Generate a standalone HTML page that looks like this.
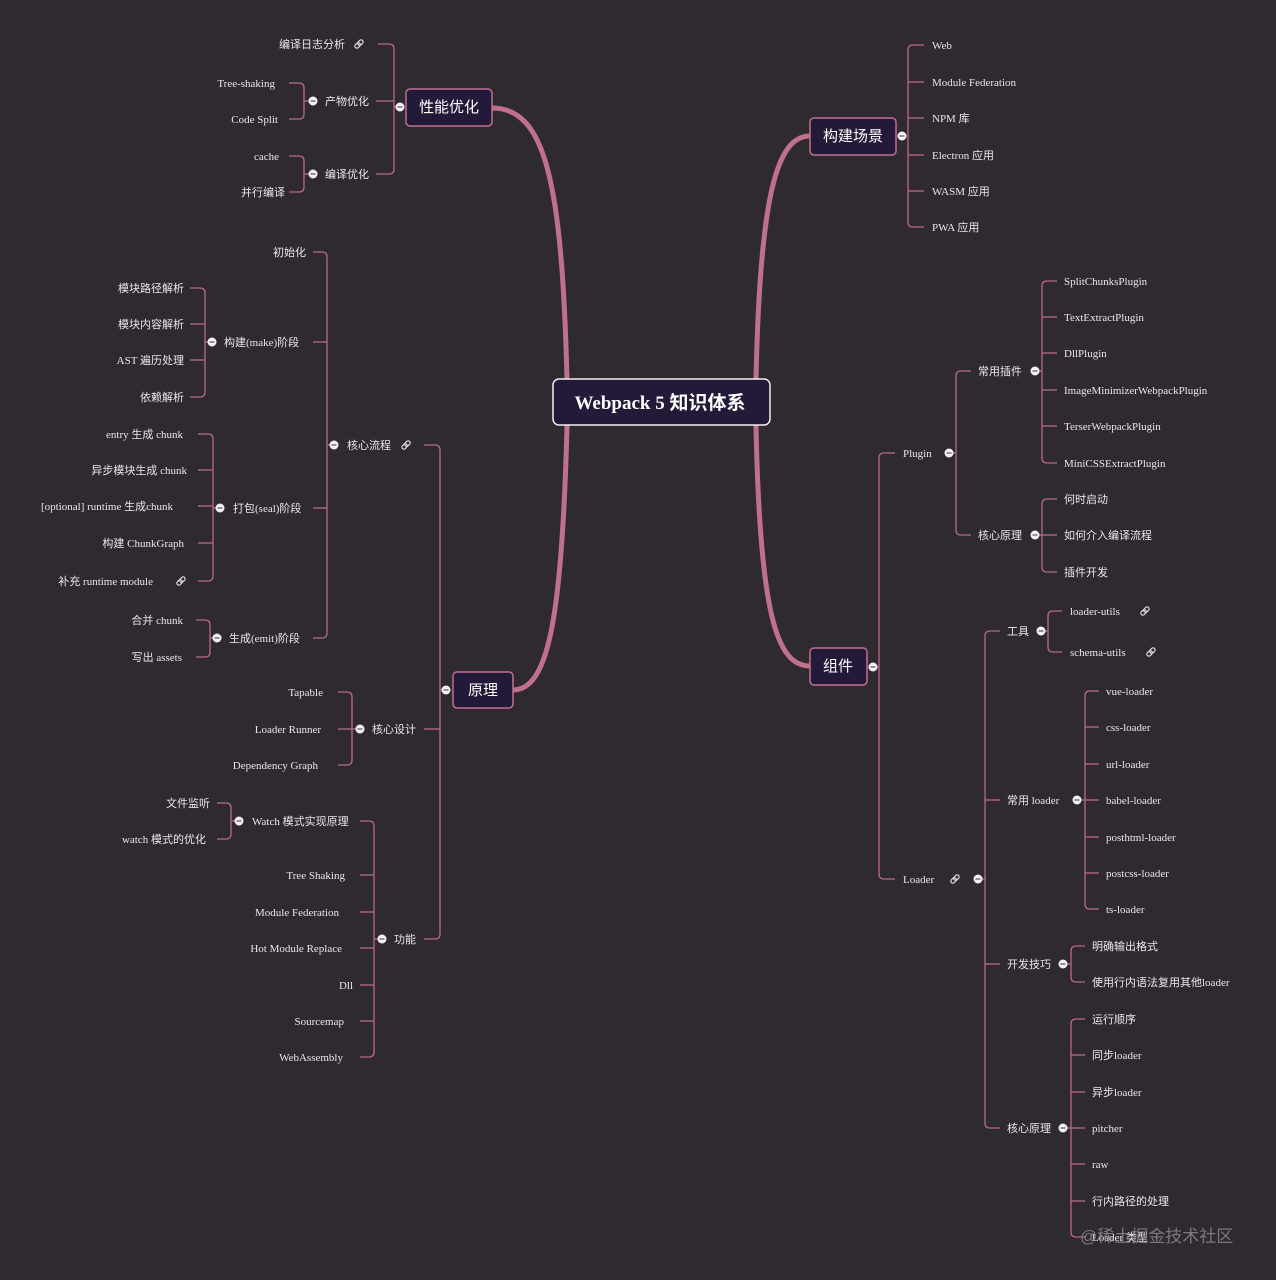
<!DOCTYPE html>
<html><head><meta charset="utf-8"><style>
html,body{margin:0;padding:0;background:#2f2a30;}
svg{display:block}
text{font-family:"Liberation Serif","Noto Sans CJK SC",serif;font-size:11px;fill:#eee4ec;}
.l{text-anchor:end}
.b{font-family:"Liberation Sans","Noto Sans CJK SC",sans-serif;font-size:15px;fill:#fff}
</style></head><body>
<svg id="s" width="1276" height="1280" xmlns="http://www.w3.org/2000/svg">
<rect width="1276" height="1280" fill="#2f2a30"/>
<g id="lines" fill="none" stroke="#b8698c" stroke-width="1.3"></g>
<g fill="none" stroke="#c0708f" stroke-width="5" stroke-linecap="round">
<path d="M567,380 C562,180 545,108 492,108"/>
<path d="M567,426 C562,620 548,690 513,690"/>
<path d="M756,380 C760,190 778,136 810,136"/>
<path d="M756,426 C760,620 778,666 810,666"/>
</g>
<!-- boxes -->
<rect x="553" y="379" width="217" height="46" rx="6" fill="#221a38" stroke="#f2eef4" stroke-width="1.5"/>
<text x="660" y="409" style="font-family:'Liberation Serif','Noto Sans CJK SC',serif;font-size:19px;font-weight:bold;fill:#fff;text-anchor:middle">Webpack 5 知识体系</text>
<rect x="406" y="89" width="86" height="37" rx="4" fill="#221a38" stroke="#c0708f" stroke-width="1.5"/>
<text class="b" x="449" y="112" text-anchor="middle">性能优化</text>
<rect x="453" y="672" width="60" height="36" rx="4" fill="#221a38" stroke="#c0708f" stroke-width="1.5"/>
<text class="b" x="483" y="695" text-anchor="middle">原理</text>
<rect x="810" y="118" width="86" height="37" rx="4" fill="#221a38" stroke="#c0708f" stroke-width="1.5"/>
<text class="b" x="853" y="141" text-anchor="middle">构建场景</text>
<rect x="810" y="648" width="57" height="37" rx="4" fill="#221a38" stroke="#c0708f" stroke-width="1.5"/>
<text class="b" x="838" y="671" text-anchor="middle">组件</text>

<!-- left texts -->
<text class="l" x="345" y="48">编译日志分析</text>
<text x="325" y="105">产物优化</text>
<text x="325" y="178">编译优化</text>
<text class="l" x="275" y="87">Tree-shaking</text>
<text class="l" x="278" y="123">Code Split</text>
<text class="l" x="279" y="160">cache</text>
<text class="l" x="285" y="196">并行编译</text>

<text x="347" y="449">核心流程</text>
<text x="372" y="733">核心设计</text>
<text x="394" y="943">功能</text>
<text class="l" x="306" y="256">初始化</text>
<text x="224" y="346">构建(make)阶段</text>
<text x="233" y="512">打包(seal)阶段</text>
<text x="229" y="642">生成(emit)阶段</text>
<text class="l" x="184" y="292">模块路径解析</text>
<text class="l" x="184" y="328">模块内容解析</text>
<text class="l" x="184" y="364">AST 遍历处理</text>
<text class="l" x="184" y="401">依赖解析</text>
<text class="l" x="183" y="438">entry 生成 chunk</text>
<text class="l" x="187" y="474">异步模块生成 chunk</text>
<text class="l" x="173" y="510">[optional] runtime 生成chunk</text>
<text class="l" x="184" y="547">构建 ChunkGraph</text>
<text class="l" x="153" y="585">补充 runtime module</text>
<text class="l" x="183" y="624">合并 chunk</text>
<text class="l" x="182" y="661">写出 assets</text>
<text class="l" x="323" y="696">Tapable</text>
<text class="l" x="321" y="733">Loader Runner</text>
<text class="l" x="318" y="769">Dependency Graph</text>
<text x="252" y="825">Watch 模式实现原理</text>
<text class="l" x="345" y="879">Tree Shaking</text>
<text class="l" x="339" y="916">Module Federation</text>
<text class="l" x="342" y="952">Hot Module Replace</text>
<text class="l" x="353" y="989">Dll</text>
<text class="l" x="344" y="1025">Sourcemap</text>
<text class="l" x="343" y="1061">WebAssembly</text>
<text class="l" x="210" y="807">文件监听</text>
<text class="l" x="206" y="843">watch 模式的优化</text>

<!-- right texts -->
<text x="932" y="49">Web</text>
<text x="932" y="86">Module Federation</text>
<text x="932" y="122">NPM 库</text>
<text x="932" y="159">Electron 应用</text>
<text x="932" y="195">WASM 应用</text>
<text x="932" y="231">PWA 应用</text>
<text x="903" y="457">Plugin</text>
<text x="903" y="883">Loader</text>
<text x="978" y="375">常用插件</text>
<text x="978" y="539">核心原理</text>
<text x="1064" y="285">SplitChunksPlugin</text>
<text x="1064" y="321">TextExtractPlugin</text>
<text x="1064" y="357">DllPlugin</text>
<text x="1064" y="394">ImageMinimizerWebpackPlugin</text>
<text x="1064" y="430">TerserWebpackPlugin</text>
<text x="1064" y="467">MiniCSSExtractPlugin</text>
<text x="1064" y="503">何时启动</text>
<text x="1064" y="539">如何介入编译流程</text>
<text x="1064" y="576">插件开发</text>
<text x="1007" y="635">工具</text>
<text x="1007" y="804">常用 loader</text>
<text x="1007" y="968">开发技巧</text>
<text x="1007" y="1132">核心原理</text>
<text x="1070" y="615">loader-utils</text>
<text x="1070" y="656">schema-utils</text>
<text x="1106" y="695">vue-loader</text>
<text x="1106" y="731">css-loader</text>
<text x="1106" y="768">url-loader</text>
<text x="1106" y="804">babel-loader</text>
<text x="1106" y="841">posthtml-loader</text>
<text x="1106" y="877">postcss-loader</text>
<text x="1106" y="913">ts-loader</text>
<text x="1092" y="950">明确输出格式</text>
<text x="1092" y="986">使用行内语法复用其他loader</text>
<text x="1092" y="1023">运行顺序</text>
<text x="1092" y="1059">同步loader</text>
<text x="1092" y="1096">异步loader</text>
<text x="1092" y="1132">pitcher</text>
<text x="1092" y="1168">raw</text>
<text x="1092" y="1205">行内路径的处理</text>
<text x="1092" y="1241">Loader 类型</text>
<text x="1080" y="1242" style="font-family:'Liberation Sans','Noto Sans CJK SC',sans-serif;font-size:17px;fill:#8a8590;opacity:.85">@稀土掘金技术社区</text>

<g id="links" font-size="12" fill="#ddd"></g>
<g id="dots"></g>
</svg>
<script>
var NS="http://www.w3.org/2000/svg";
var L=document.getElementById('lines'),D=document.getElementById('dots'),K=document.getElementById('links');
function p(d){var e=document.createElementNS(NS,'path');e.setAttribute('d',d);L.appendChild(e);}
// br(bx, [[y, stubEndX],...], dotX, dotY)
function br(bx,ch,dx,dy){
 var ys=ch.map(c=>c[0]);var t=Math.min.apply(0,ys),b=Math.max.apply(0,ys);
 var r=5;
 ch.forEach(function(c){
  var y=c[0],x=c[1],s=x<bx?1:-1;
  if(y==t&&t!=b)p('M'+x+','+y+' H'+(bx-s*r)+' Q'+bx+','+y+' '+bx+','+(y+r));
  else if(y==b&&t!=b)p('M'+x+','+y+' H'+(bx-s*r)+' Q'+bx+','+y+' '+bx+','+(y-r));
  else p('M'+x+','+y+' H'+bx);
 });
 p('M'+bx+','+(t+r)+' V'+(b-r));
 p('M'+bx+','+dy+' H'+dx);
 dot(dx,dy);
}
function dot(x,y){var c=document.createElementNS(NS,'circle');c.setAttribute('cx',x);c.setAttribute('cy',y);c.setAttribute('r',4.5);c.setAttribute('fill','#f4f0f4');D.appendChild(c);
 var l=document.createElementNS(NS,'path');l.setAttribute('d','M'+(x-2.5)+','+y+' H'+(x+2.5));l.setAttribute('stroke','#555');l.setAttribute('stroke-width','1.2');D.appendChild(l);}
function lk(x,y){var t=document.createElementNS(NS,'text');t.setAttribute('x',x);t.setAttribute('y',y);t.setAttribute('style','font-size:12px;fill:#ddd;text-anchor:middle;font-family:DejaVu Sans,sans-serif');t.textContent='\u{1F517}';
 var g=document.createElementNS(NS,'g');g.setAttribute('stroke','#ddd');g.setAttribute('fill','none');g.setAttribute('stroke-width','1.2');
 g.innerHTML='<rect x="'+(x-5)+'" y="'+(y-2)+'" width="6" height="4" rx="2" transform="rotate(-45 '+x+' '+y+')"/><rect x="'+(x-1)+'" y="'+(y-2)+'" width="6" height="4" rx="2" transform="rotate(-45 '+x+' '+y+')"/>';
 K.appendChild(g);}
// left
br(394,[[44,378],[101,376],[174,376]],400,107);
br(304,[[83,289],[119,289]],313,101);
br(304,[[156,289],[192,289]],313,174);
br(440,[[445,424],[729,424],[939,424]],446,690);
br(327,[[252,313],[342,313],[508,313],[638,313]],334,445);
br(205,[[288,190],[324,190],[360,190],[397,190]],212,342);
br(213,[[434,198],[470,198],[506,198],[543,198],[581,198]],220,508);
br(210,[[620,196],[657,196]],217,638);
br(352,[[692,338],[729,338],[765,338]],360,729);
br(374,[[821,360],[875,360],[912,360],[948,360],[985,360],[1021,360],[1057,360]],382,939);
br(231,[[803,217],[839,217]],239,821);
// right
br(908,[[45,924],[82,924],[118,924],[155,924],[191,924],[227,924]],902,136);
br(879,[[453,895],[879,895]],873,667);
br(956,[[371,971],[535,971]],949,453);
br(1042,[[281,1057],[317,1057],[353,1057],[390,1057],[426,1057],[463,1057]],1035,371);
br(1042,[[499,1057],[535,1057],[572,1057]],1035,535);
br(985,[[631,1000],[800,1000],[964,1000],[1128,1000]],978,879);
br(1048,[[611,1062],[652,1062]],1041,631);
br(1085,[[691,1099],[727,1099],[764,1099],[800,1099],[837,1099],[873,1099],[909,1099]],1077,800);
br(1071,[[946,1085],[982,1085]],1063,964);
br(1071,[[1019,1085],[1055,1085],[1092,1085],[1128,1085],[1164,1085],[1201,1085],[1237,1085]],1063,1128);
[[359,44],[406,445],[181,581],[955,879],[1145,611],[1151,652]].forEach(a=>lk(a[0],a[1]));
</script>
</body></html>
